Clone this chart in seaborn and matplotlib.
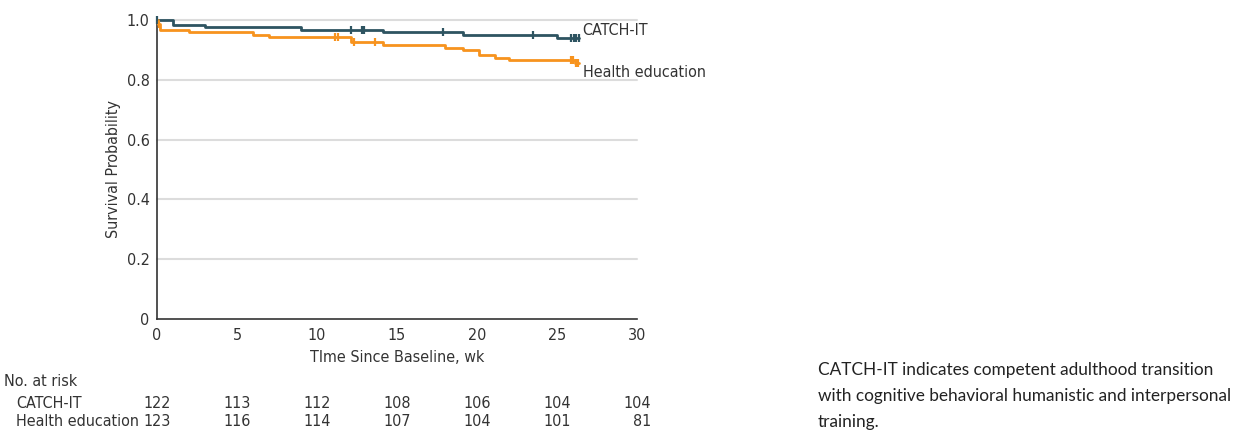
import numpy as np
import pandas as pd
import matplotlib
matplotlib.use("Agg")
import matplotlib.pyplot as plt
import matplotlib.transforms as mtransforms
import seaborn as sns

# ---------------- data ----------------
groups = ["CATCH-IT", "Health education"]

catch_times = [0, 1.0, 3.0, 9.0, 14.1, 19.1, 25.0, 26.4]
catch_surv = [1.0, 0.984, 0.975, 0.967, 0.959, 0.951, 0.940, 0.940]
catch_censor = [0.0, 12.1, 12.8, 12.95, 17.9, 23.5, 25.9, 26.05, 26.2, 26.35]

health_times = [0, 0.05, 0.2, 2.0, 6.0, 7.0, 12.1, 14.1, 18.0, 19.1, 20.1, 21.1, 22.0, 26.1, 26.4]
health_surv = [1.0, 0.985, 0.967, 0.959, 0.951, 0.942, 0.926, 0.918, 0.908, 0.900, 0.882, 0.874, 0.866, 0.857, 0.857]
health_censor = [0.1, 11.1, 11.3, 12.3, 13.6, 25.9, 26.0, 26.2, 26.3]

risk_times = [0, 5, 10, 15, 20, 25, 30]
risk_catch = [122, 113, 112, 108, 106, 104, 104]
risk_health = [123, 116, 114, 107, 104, 101, 81]

caption = ("CATCH-IT indicates competent adulthood transition\n"
           "with cognitive behavioral humanistic and interpersonal\n"
           "training.")

colors = {"CATCH-IT": "#2e5461", "Health education": "#f7931e"}

# ---------------- frames ----------------
curves = pd.concat([
    pd.DataFrame({"time": catch_times, "surv": catch_surv, "group": groups[0]}),
    pd.DataFrame({"time": health_times, "surv": health_surv, "group": groups[1]}),
], ignore_index=True)


def surv_at(t_steps, s_steps, t):
    idx = np.searchsorted(np.asarray(t_steps), np.asarray(t), side="right") - 1
    return np.asarray(s_steps)[idx]


censors = pd.concat([
    pd.DataFrame({"time": catch_censor,
                  "surv": surv_at(catch_times, catch_surv, catch_censor),
                  "group": groups[0]}),
    pd.DataFrame({"time": health_censor,
                  "surv": surv_at(health_times, health_surv, health_censor),
                  "group": groups[1]}),
], ignore_index=True)

# ---------------- style ----------------
sns.set_theme(style="white")
cond = ["Liberation Sans Narrow", "DejaVu Sans"]
plt.rcParams["font.family"] = cond
plt.rcParams["font.stretch"] = "condensed"
txt = "#333333"

fig = plt.figure(figsize=(12.49, 4.30), dpi=100)
ax = fig.add_axes([157 / 1249, 1 - 319 / 430, 480 / 1249, 299 / 430])

for y in [0.2, 0.4, 0.6, 0.8, 1.0]:
    ax.axhline(y, color="#dcdcdc", lw=1.5, zorder=0, clip_on=False)

sns.lineplot(data=curves, x="time", y="surv", hue="group", palette=colors,
             estimator=None, drawstyle="steps-post", lw=2.0, legend=False,
             ax=ax, clip_on=False, zorder=3)
sns.scatterplot(data=censors, x="time", y="surv", hue="group", palette=colors,
                marker="|", s=32, linewidth=1.6, legend=False, ax=ax,
                clip_on=False, zorder=4)

ax.set_xlim(0, 30)
ax.set_ylim(0, 1.0)
ax.set_xticks(risk_times)
ax.set_xticklabels([str(t) for t in risk_times])
ax.set_yticks([0, 0.2, 0.4, 0.6, 0.8, 1.0])
ax.set_yticklabels(["0", "0.2", "0.4", "0.6", "0.8", "1.0"])
ax.tick_params(axis="both", direction="out", length=3.8, width=1, color="#333333",
               labelsize=11.5, labelcolor=txt)
ax.tick_params(axis="x", pad=3)
ax.tick_params(axis="y", pad=1.5)
for side in ["top", "right"]:
    ax.spines[side].set_visible(False)
for side in ["left", "bottom"]:
    ax.spines[side].set_color("#333333")
    ax.spines[side].set_linewidth(1.2)

ax.set_xlabel("TIme Since Baseline, wk", fontsize=11.5, color=txt, labelpad=5)
ax.set_ylabel("Survival Probability", fontsize=11.5, color=txt, labelpad=4)

# line-end labels
ax.text(26.6, 0.965, "CATCH-IT", fontsize=11.5, color=txt, va="center", ha="left")
ax.text(26.6, 0.826, "Health education", fontsize=11.5, color=txt, va="center", ha="left")

# ---------------- at-risk table ----------------
fig.text(4 / 1249, 1 - 381 / 430, "No. at risk", fontsize=11.5, color=txt, va="center")
fig.text(16 / 1249, 1 - 403 / 430, groups[0], fontsize=11.5, color=txt, va="center")
fig.text(16 / 1249, 1 - 422 / 430, groups[1], fontsize=11.5, color=txt, va="center")
offs = mtransforms.offset_copy(ax.transData, fig=fig, x=14, y=0, units="dots")
tr = mtransforms.blended_transform_factory(offs, fig.transFigure)
for t, a, b in zip(risk_times, risk_catch, risk_health):
    ax.text(t, 1 - 403 / 430, str(a), transform=tr, fontsize=11.5, color=txt,
            ha="right", va="center")
    ax.text(t, 1 - 422 / 430, str(b), transform=tr, fontsize=11.5, color=txt,
            ha="right", va="center")

# ---------------- caption ----------------
fig.text(818 / 1249, 1 - 362 / 430, caption, fontsize=12.4, color="#222222",
         family=["Lato", "DejaVu Sans"], stretch="normal", va="top", ha="left",
         linespacing=1.75)

fig.savefig("out.png", dpi=100)
